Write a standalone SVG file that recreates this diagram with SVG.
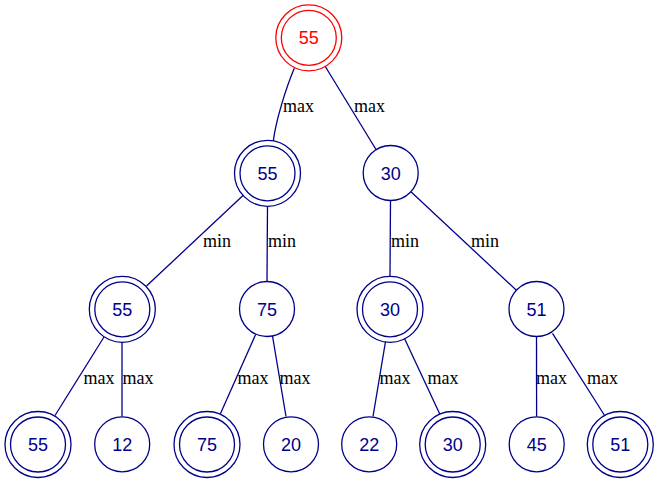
<svg xmlns="http://www.w3.org/2000/svg" width="659" height="483" viewBox="0 0 659 483">
  <style>
    .bg { fill: #ffffff; }
    .node circle { fill: none; stroke: #00008b; stroke-width: 1.3; }
    .node text { font-family: "Liberation Sans", Arial, sans-serif; font-size: 18px; fill: #00008b; text-anchor: middle; }
    .root circle { stroke: #ff0000; }
    .root text { fill: #ff0000; }
    .edges path, .edges line { fill: none; stroke: #00008b; stroke-width: 1.3; }
    .lbl { font-family: "Liberation Serif", "Times New Roman", serif; font-size: 18px; fill: #000000; }
  </style>
  <rect class="bg" x="0" y="0" width="659" height="483"/>

  <!-- connectors -->
  <g id="edges" class="edges">
    <path d="M294.3,68.3 C286,88 276,120 273.3,141"/>
    <line x1="325" y1="66" x2="376" y2="149.5"/>
    <line x1="243" y1="195.5" x2="146.5" y2="286"/>
    <line x1="267.5" y1="206" x2="267" y2="281.5"/>
    <line x1="390.5" y1="200.5" x2="390" y2="276"/>
    <line x1="411.2" y1="192" x2="516.4" y2="290.3"/>
    <line x1="104" y1="337" x2="55" y2="415.5"/>
    <line x1="122" y1="342" x2="122" y2="416.5"/>
    <line x1="255.6" y1="334.6" x2="220.4" y2="413.8"/>
    <line x1="272.5" y1="336" x2="286" y2="416.5"/>
    <line x1="385.5" y1="341.5" x2="373" y2="416.5"/>
    <line x1="404.5" y1="338.5" x2="440" y2="414.5"/>
    <line x1="536.5" y1="336.5" x2="536.6" y2="416.5"/>
    <line x1="552.5" y1="333.3" x2="604.3" y2="415"/>
  </g>

  <!-- connector labels -->
  <g id="edge-labels">
    <text class="lbl" x="283" y="112">max</text>
    <text class="lbl" x="354" y="112">max</text>
    <text class="lbl" x="203" y="247">min</text>
    <text class="lbl" x="268" y="247">min</text>
    <text class="lbl" x="391" y="247">min</text>
    <text class="lbl" x="471" y="247">min</text>
    <text class="lbl" x="83.5" y="384">max</text>
    <text class="lbl" x="122.5" y="384">max</text>
    <text class="lbl" x="237.5" y="384">max</text>
    <text class="lbl" x="279.5" y="384">max</text>
    <text class="lbl" x="379.5" y="384">max</text>
    <text class="lbl" x="427.5" y="384">max</text>
    <text class="lbl" x="536" y="384">max</text>
    <text class="lbl" x="587" y="384">max</text>
  </g>

  <!-- level 0 -->
  <g id="n0" class="node root">
    <circle cx="308.8" cy="37.8" r="27.5"/>
    <circle cx="308.8" cy="37.8" r="33"/>
    <text x="308.8" y="44.3">55</text>
  </g>

  <!-- level 1 -->
  <g id="n1" class="node">
    <circle cx="267.5" cy="173.3" r="27.5"/>
    <circle cx="267.5" cy="173.3" r="33"/>
    <text x="267.5" y="179.8">55</text>
  </g>
  <g id="n2" class="node">
    <circle cx="390.7" cy="173" r="27.5"/>
    <text x="390.7" y="179.5">30</text>
  </g>

  <!-- level 2 -->
  <g id="n3" class="node">
    <circle cx="122.3" cy="309.3" r="27.5"/>
    <circle cx="122.3" cy="309.3" r="33"/>
    <text x="122.3" y="315.8">55</text>
  </g>
  <g id="n4" class="node">
    <circle cx="267" cy="309" r="27.5"/>
    <text x="267" y="315.5">75</text>
  </g>
  <g id="n5" class="node">
    <circle cx="390" cy="309.3" r="27.5"/>
    <circle cx="390" cy="309.3" r="33"/>
    <text x="390" y="315.8">30</text>
  </g>
  <g id="n6" class="node">
    <circle cx="536.5" cy="309" r="27.5"/>
    <text x="536.5" y="315.5">51</text>
  </g>

  <!-- level 3 -->
  <g id="n7" class="node">
    <circle cx="38" cy="444.5" r="27.5"/>
    <circle cx="38" cy="444.5" r="33"/>
    <text x="38" y="451">55</text>
  </g>
  <g id="n8" class="node">
    <circle cx="122.2" cy="444.3" r="27.5"/>
    <text x="122.2" y="450.8">12</text>
  </g>
  <g id="n9" class="node">
    <circle cx="207" cy="444.5" r="27.5"/>
    <circle cx="207" cy="444.5" r="33"/>
    <text x="207" y="451">75</text>
  </g>
  <g id="n10" class="node">
    <circle cx="291" cy="444.3" r="27.5"/>
    <text x="291" y="450.8">20</text>
  </g>
  <g id="n11" class="node">
    <circle cx="369.2" cy="444.3" r="27.5"/>
    <text x="369.2" y="450.8">22</text>
  </g>
  <g id="n12" class="node">
    <circle cx="452.7" cy="444.5" r="27.5"/>
    <circle cx="452.7" cy="444.5" r="33"/>
    <text x="452.7" y="451">30</text>
  </g>
  <g id="n13" class="node">
    <circle cx="536.7" cy="444.3" r="27.5"/>
    <text x="536.7" y="450.8">45</text>
  </g>
  <g id="n14" class="node">
    <circle cx="620.3" cy="444.5" r="27.5"/>
    <circle cx="620.3" cy="444.5" r="33"/>
    <text x="620.3" y="451">51</text>
  </g>
</svg>
